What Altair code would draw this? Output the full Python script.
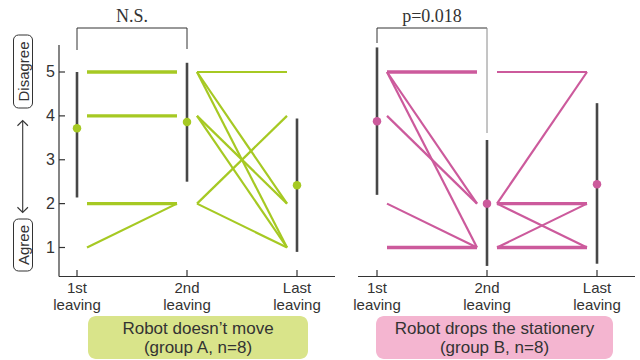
import altair as alt
import pandas as pd

# ---------------- data ----------------
conditions = ["1st\nleaving", "2nd\nleaving", "Last\nleaving"]
groups = ["A", "B"]
box_labels = ["Robot doesn’t move\n(group A, n=8)", "Robot drops the stationery\n(group B, n=8)"]
stat_labels = ["N.S.", "p=0.018"]
y_ticks = [1, 2, 3, 4, 5]

# individual answers: segment 1st->2nd and 2nd->Last (n = overlapping lines)
a_s1_from = [5, 4, 2, 1]
a_s1_to = [5, 4, 2, 2]
a_s1_n = [2, 2, 2, 1]
a_s2_from = [5, 5, 5, 4, 4, 2, 2]
a_s2_to = [5, 2, 1, 2, 1, 4, 1]
a_s2_n = [1, 1, 1, 1, 1, 1, 1]

b_s1_from = [5, 5, 5, 4, 2, 1]
b_s1_to = [5, 2, 1, 2, 1, 1]
b_s1_n = [2, 1, 1, 1, 1, 2]
b_s2_from = [5, 2, 2, 2, 1, 1]
b_s2_to = [5, 5, 2, 1, 2, 1]
b_s2_n = [1, 1, 2, 1, 1, 2]

# means and error bar ends
a_mean = [3.72, 3.86, 2.42]
a_lo = [2.14, 2.50, 0.90]
a_hi = [5.00, 5.21, 3.94]
b_mean = [3.88, 2.00, 2.44]
b_lo = [2.20, 0.58, 0.63]
b_hi = [5.56, 3.45, 4.29]

# ---------------- layout / style ----------------
W, H = 640, 360
STEP = 110.0            # px between conditions
X0 = 77.0               # px of group A "1st"
offsets = [0.0, 300.0 / STEP]
GAP = 10.0 / STEP
Y5, PXU = 72.0, 43.875  # px of value 5, px per unit

line_col = {"A": "#a6c923", "B": "#cc5a9c"}
dot_col = {"A": "#8cc63f", "B": "#e4007f"}
box_fill = {"A": "#d9e48a", "B": "#f4b5d0"}
txt = "#333333"
bar_col = "#474747"
SANS = "Liberation Sans"
SERIF = "Liberation Serif"

xs = alt.Scale(domain=[-X0 / STEP, (W - X0) / STEP], nice=False, zero=False)
ys = alt.Scale(domain=[5 - (H - Y5) / PXU, 5 + Y5 / PXU], nice=False, zero=False)


def px(v):
    return X0 + v * STEP


# segments table
seg_rows = []
for g, off, segs in [
    ("A", offsets[0], [(0, a_s1_from, a_s1_to, a_s1_n), (1, a_s2_from, a_s2_to, a_s2_n)]),
    ("B", offsets[1], [(0, b_s1_from, b_s1_to, b_s1_n), (1, b_s2_from, b_s2_to, b_s2_n)]),
]:
    for start, fr, to, n in segs:
        for f, t, k in zip(fr, to, n):
            seg_rows.append({"group": g, "x1": off + start + GAP, "x2": off + start + 1 - GAP,
                             "y1": f, "y2": t, "n": k})
segs_df = pd.DataFrame(seg_rows)

stat_rows = []
for g, off, m, lo, hi in [("A", offsets[0], a_mean, a_lo, a_hi), ("B", offsets[1], b_mean, b_lo, b_hi)]:
    for i in range(3):
        stat_rows.append({"group": g, "x": off + i, "mean": m[i], "lo": lo[i], "hi": hi[i],
                          "label": conditions[i]})
stats_df = pd.DataFrame(stat_rows)

color_line = alt.Color("group:N", scale=alt.Scale(domain=groups, range=[line_col[g] for g in groups]), legend=None)
color_dot = alt.Color("group:N", scale=alt.Scale(domain=groups, range=[dot_col[g] for g in groups]), legend=None)

layers = []

# bottom label boxes
box_px = {"A": (88, 308), "B": (376, 613)}
for gi, g in enumerate(groups):
    x1, x2 = box_px[g]
    layers.append(alt.Chart(pd.DataFrame({"t": [box_labels[gi]]})).mark_rect(
        fill=box_fill[g], cornerRadius=8).encode(
        x=alt.value(x1), x2=alt.value(x2), y=alt.value(316), y2=alt.value(359)))
    layers.append(alt.Chart(pd.DataFrame({"t": [box_labels[gi]]})).mark_text(
        font=SANS, fontSize=17, color=txt, lineBreak="\n", lineHeight=19,
        align="center", baseline="alphabetic").encode(
        x=alt.value((x1 + x2) / 2), y=alt.value(334), text="t:N"))

# axes lines
layers.append(alt.Chart(pd.DataFrame({"a": [0]})).mark_rule(color=txt, strokeWidth=1.2).encode(
    x=alt.value(59), y=alt.value(45), y2=alt.value(276.5)))
for g, (l, r) in [("A", (59, 335)), ("B", (358, 635))]:
    layers.append(alt.Chart(pd.DataFrame({"a": [0]})).mark_rule(color=txt, strokeWidth=1.2).encode(
        x=alt.value(l), x2=alt.value(r), y=alt.value(276.5)))

# y ticks and labels
yt = pd.DataFrame({"v": y_ticks, "s": [str(v) for v in y_ticks]})
layers.append(alt.Chart(yt).mark_rule(color=txt, strokeWidth=1.2).encode(
    x=alt.value(59), x2=alt.value(65), y=alt.Y("v:Q", scale=ys, axis=None)))
layers.append(alt.Chart(yt).mark_text(font=SANS, fontSize=16, color=txt, align="right",
                                      baseline="middle").encode(
    x=alt.value(55), y=alt.Y("v:Q", scale=ys, axis=None), text="s:N"))

# x ticks and labels
layers.append(alt.Chart(stats_df).mark_rule(color=txt, strokeWidth=1.2).encode(
    x=alt.X("x:Q", scale=xs, axis=None), y=alt.value(270), y2=alt.value(276.5)))
layers.append(alt.Chart(stats_df).mark_text(font=SANS, fontSize=15, color=txt, lineBreak="\n",
                                            lineHeight=17, align="center", baseline="alphabetic").encode(
    x=alt.X("x:Q", scale=xs, axis=None), y=alt.value(293), text="label:N"))

# individual lines
layers.append(alt.Chart(segs_df).mark_rule(strokeCap="butt").encode(
    x=alt.X("x1:Q", scale=xs, axis=None), x2="x2:Q",
    y=alt.Y("y1:Q", scale=ys, axis=None), y2="y2:Q",
    color=color_line,
    size=alt.Size("n:Q", scale=alt.Scale(domain=[1, 2], range=[2.2, 3.4]), legend=None)))

# error bars and means
layers.append(alt.Chart(stats_df).mark_rule(color=bar_col, strokeWidth=2.6).encode(
    x=alt.X("x:Q", scale=xs, axis=None), y=alt.Y("lo:Q", scale=ys, axis=None), y2="hi:Q"))
layers.append(alt.Chart(stats_df).mark_circle(size=72, opacity=1).encode(
    x=alt.X("x:Q", scale=xs, axis=None), y=alt.Y("mean:Q", scale=ys, axis=None), color=color_dot))

# significance brackets
br = [("A", 50, 49, txt), ("B", 43, 133, "#8a8a8a")]
for gi, (g, ldrop, rdrop, rcol) in enumerate(br):
    xl, xr = px(offsets[gi]), px(offsets[gi] + 1)
    layers.append(alt.Chart(pd.DataFrame({"a": [0]})).mark_rule(color=txt, strokeWidth=1).encode(
        x=alt.value(xl), x2=alt.value(xr), y=alt.value(28)))
    layers.append(alt.Chart(pd.DataFrame({"a": [0]})).mark_rule(color=txt, strokeWidth=1).encode(
        x=alt.value(xl), y=alt.value(28), y2=alt.value(ldrop)))
    layers.append(alt.Chart(pd.DataFrame({"a": [0]})).mark_rule(color=rcol, strokeWidth=1).encode(
        x=alt.value(xr), y=alt.value(28), y2=alt.value(rdrop)))
    layers.append(alt.Chart(pd.DataFrame({"t": [stat_labels[gi]]})).mark_text(
        font=SERIF, fontSize=18, color=txt, align="center", baseline="alphabetic").encode(
        x=alt.value((xl + xr) / 2), y=alt.value(22), text="t:N"))

# Disagree / Agree side labels with double arrow
for label, y1, y2 in [("Disagree", 35, 108), ("Agree", 219, 271)]:
    layers.append(alt.Chart(pd.DataFrame({"t": [label]})).mark_rect(
        fill="white", stroke=txt, strokeWidth=1, cornerRadius=5).encode(
        x=alt.value(13.5), x2=alt.value(32.5), y=alt.value(y1), y2=alt.value(y2)))
    layers.append(alt.Chart(pd.DataFrame({"t": [label]})).mark_text(
        font=SANS, fontSize=15, color=txt, angle=270, align="center", baseline="middle").encode(
        x=alt.value(23.5), y=alt.value((y1 + y2) / 2), text="t:N"))
layers.append(alt.Chart(pd.DataFrame({"a": [0]})).mark_rule(color=txt, strokeWidth=1.1).encode(
    x=alt.value(22.7), y=alt.value(121), y2=alt.value(212)))
layers.append(alt.Chart(pd.DataFrame({"a": [0]})).mark_point(
    shape="M-1,1L0,0L1,1", filled=False, color=txt, strokeWidth=1.1, size=110, opacity=1).encode(
    x=alt.value(22.7), y=alt.value(120.5)))
layers.append(alt.Chart(pd.DataFrame({"a": [0]})).mark_point(
    shape="M-1,-1L0,0L1,-1", filled=False, color=txt, strokeWidth=1.1, size=110, opacity=1).encode(
    x=alt.value(22.7), y=alt.value(212.5)))

chart = alt.layer(*layers).properties(
    width=W, height=H, autosize=alt.AutoSizeParams(type="none"), padding=0, background="white"
).configure_view(stroke=None)

chart.save("out.html", embed_options={"renderer": "svg", "actions": False})
